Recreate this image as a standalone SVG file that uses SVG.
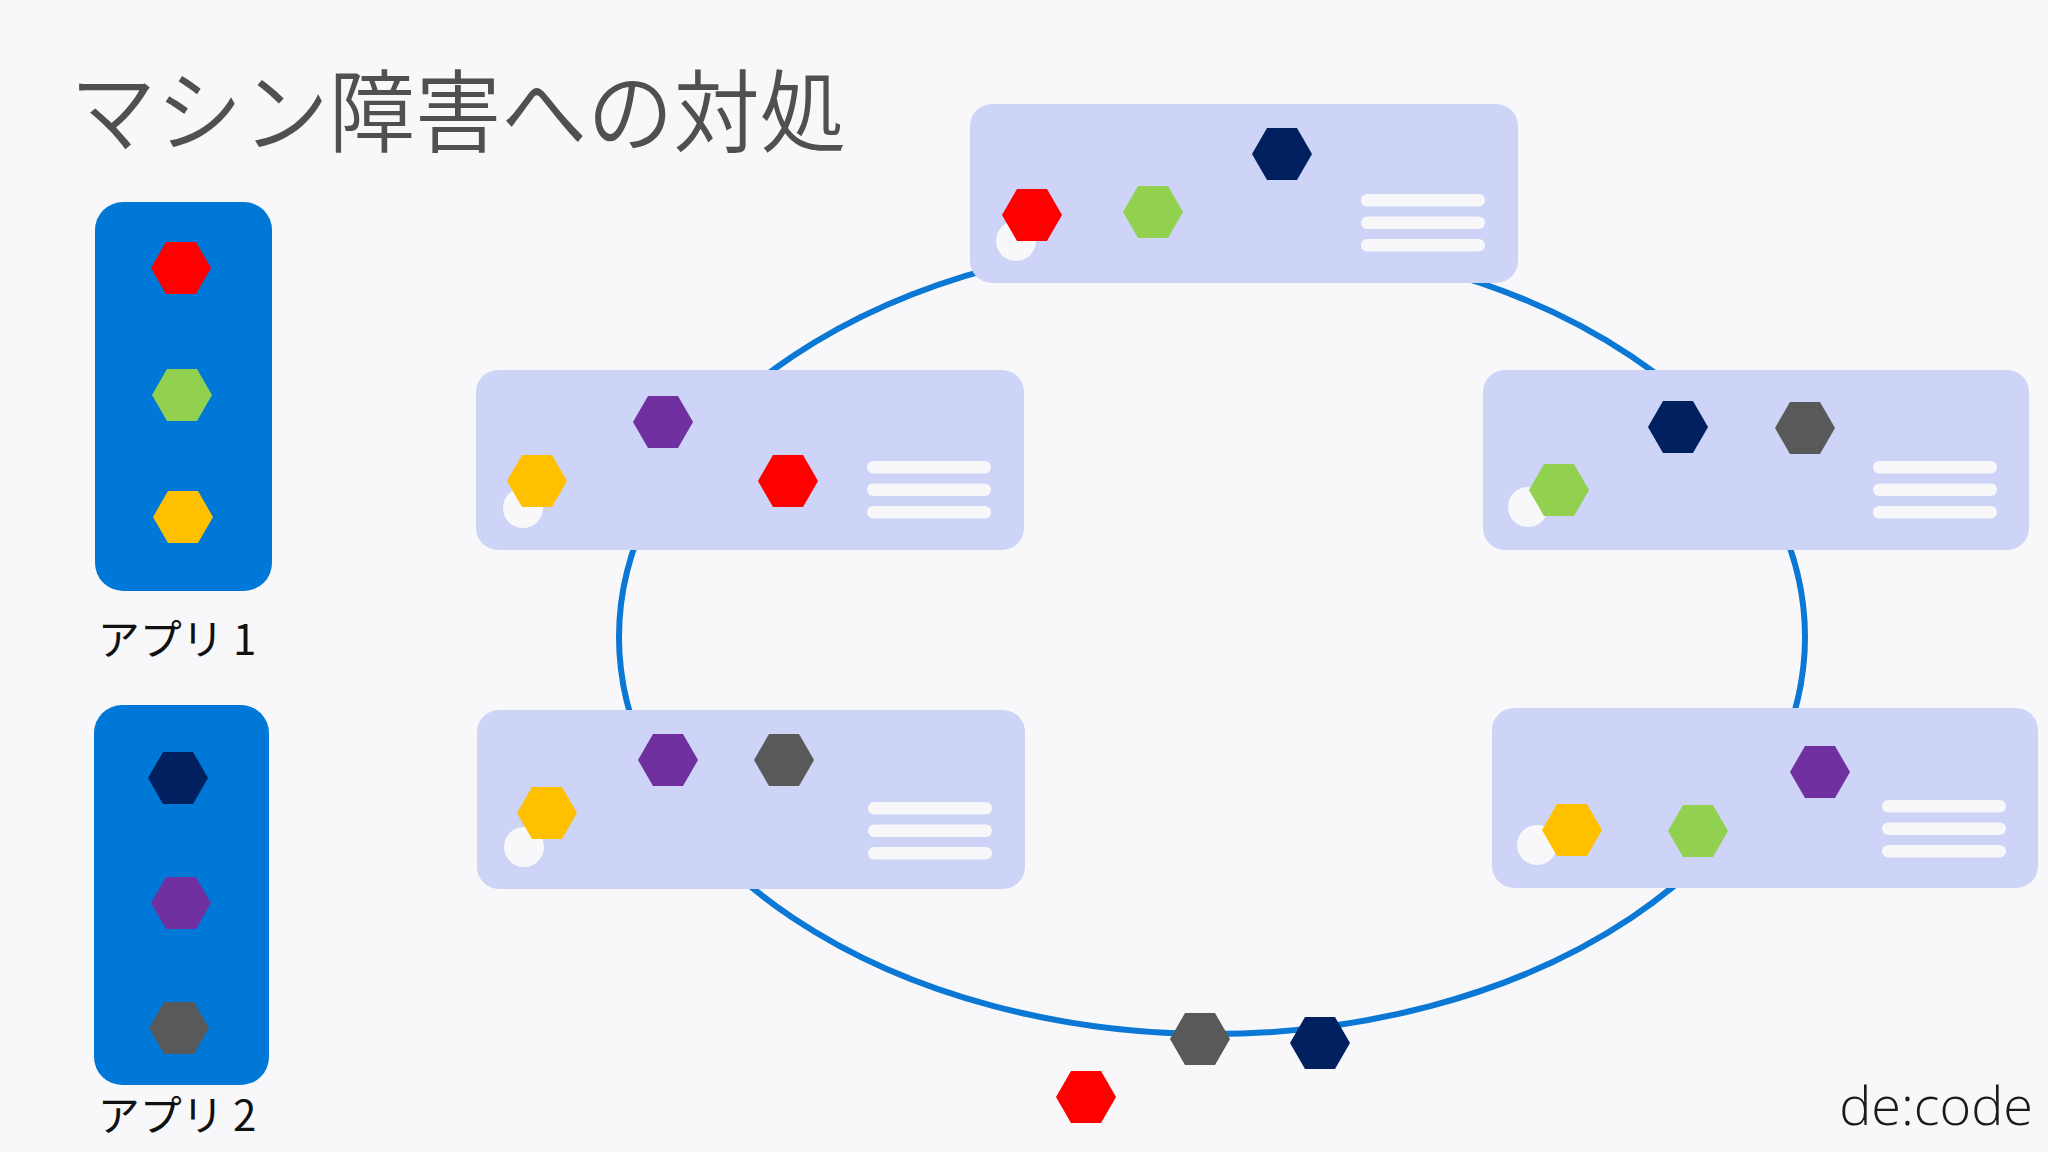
<svg xmlns="http://www.w3.org/2000/svg" xmlns:xlink="http://www.w3.org/1999/xlink" width="2048" height="1152" viewBox="0 0 2048 1152">
<style>
.bg{fill:#F8F8FA}
.app{fill:#0078D7}
.card{fill:#CDD4F7}
.dot{fill:#F8F8FA}
.bar{fill:#F8F8FA}
.ring{fill:none;stroke:#0A78D4;stroke-width:6}
.red{fill:#FF0000}
.green{fill:#92D050}
.yellow{fill:#FFC000}
.navy{fill:#002060}
.purple{fill:#7030A0}
.gray{fill:#595959}
.title{font-family:"Noto Sans CJK JP","Noto Sans",sans-serif;font-size:90px;fill:#505050;font-weight:350}
.label{font-family:"Noto Sans CJK JP","Noto Sans",sans-serif;font-size:42px;fill:#111111;text-anchor:middle}
.logo{font-family:"Open Sans","Liberation Sans",sans-serif;font-size:54px;font-weight:300;fill:#1a1a1a;text-anchor:end}
</style>
<defs>
<path id="hex" d="M-30,0 L-15,-26 L15,-26 L30,0 L15,26 L-15,26 Z"/>
<g id="bars">
<rect x="0" y="0" width="124" height="12.5" rx="6.25"/>
<rect x="0" y="22.5" width="124" height="12.5" rx="6.25"/>
<rect x="0" y="45" width="124" height="12.5" rx="6.25"/>
</g>
</defs>
<rect class="bg" x="0" y="0" width="2048" height="1152"/>

<g id="title"><text class="title" x="70" y="145" textLength="776" lengthAdjust="spacingAndGlyphs">マシン障害への対処</text></g>

<g id="connectors">
<ellipse class="ring" cx="1212" cy="637" rx="593" ry="397"/>
</g>

<g id="app1">
<rect class="app" x="95" y="202" width="177" height="389" rx="28"/>
<use xlink:href="#hex" href="#hex" x="181" y="268" class="red"/>
<use xlink:href="#hex" href="#hex" x="182" y="395" class="green"/>
<use xlink:href="#hex" href="#hex" x="183" y="517" class="yellow"/>
<text class="label" x="177" y="655">アプリ 1</text>
</g>

<g id="app2">
<rect class="app" x="94" y="705" width="175" height="380" rx="28"/>
<use xlink:href="#hex" href="#hex" x="178" y="778" class="navy"/>
<use xlink:href="#hex" href="#hex" x="181" y="903" class="purple"/>
<use xlink:href="#hex" href="#hex" x="179" y="1028" class="gray"/>
<text class="label" x="177" y="1131">アプリ 2</text>
</g>

<g id="machine1">
<rect class="card" x="970" y="104" width="548" height="179" rx="22"/>
<circle class="dot" cx="1016" cy="241" r="20"/>
<use xlink:href="#hex" href="#hex" x="1032" y="215" class="red"/>
<use xlink:href="#hex" href="#hex" x="1153" y="212" class="green"/>
<use xlink:href="#hex" href="#hex" x="1282" y="154" class="navy"/>
<use xlink:href="#bars" href="#bars" x="1361" y="194" class="bar"/>
</g>

<g id="machine2">
<rect class="card" x="476" y="370" width="548" height="180" rx="22"/>
<circle class="dot" cx="523" cy="508" r="20"/>
<use xlink:href="#hex" href="#hex" x="537" y="481" class="yellow"/>
<use xlink:href="#hex" href="#hex" x="663" y="422" class="purple"/>
<use xlink:href="#hex" href="#hex" x="788" y="481" class="red"/>
<use xlink:href="#bars" href="#bars" x="867" y="461" class="bar"/>
</g>

<g id="machine3">
<rect class="card" x="1483" y="370" width="546" height="180" rx="22"/>
<circle class="dot" cx="1528" cy="507" r="20"/>
<use xlink:href="#hex" href="#hex" x="1559" y="490" class="green"/>
<use xlink:href="#hex" href="#hex" x="1678" y="427" class="navy"/>
<use xlink:href="#hex" href="#hex" x="1805" y="428" class="gray"/>
<use xlink:href="#bars" href="#bars" x="1873" y="461" class="bar"/>
</g>

<g id="machine4">
<rect class="card" x="477" y="710" width="548" height="179" rx="22"/>
<circle class="dot" cx="524" cy="847" r="20"/>
<use xlink:href="#hex" href="#hex" x="547" y="813" class="yellow"/>
<use xlink:href="#hex" href="#hex" x="668" y="760" class="purple"/>
<use xlink:href="#hex" href="#hex" x="784" y="760" class="gray"/>
<use xlink:href="#bars" href="#bars" x="868" y="802" class="bar"/>
</g>

<g id="machine5">
<rect class="card" x="1492" y="708" width="546" height="180" rx="22"/>
<circle class="dot" cx="1537" cy="845" r="20"/>
<use xlink:href="#hex" href="#hex" x="1572" y="830" class="yellow"/>
<use xlink:href="#hex" href="#hex" x="1698" y="831" class="green"/>
<use xlink:href="#hex" href="#hex" x="1820" y="772" class="purple"/>
<use xlink:href="#bars" href="#bars" x="1882" y="800" class="bar"/>
</g>

<g id="displaced">
<use xlink:href="#hex" href="#hex" x="1200" y="1039" class="gray"/>
<use xlink:href="#hex" href="#hex" x="1320" y="1043" class="navy"/>
<use xlink:href="#hex" href="#hex" x="1086" y="1097" class="red"/>
</g>

<g id="logo"><text class="logo" x="2033" y="1125">de:code</text></g>
</svg>
